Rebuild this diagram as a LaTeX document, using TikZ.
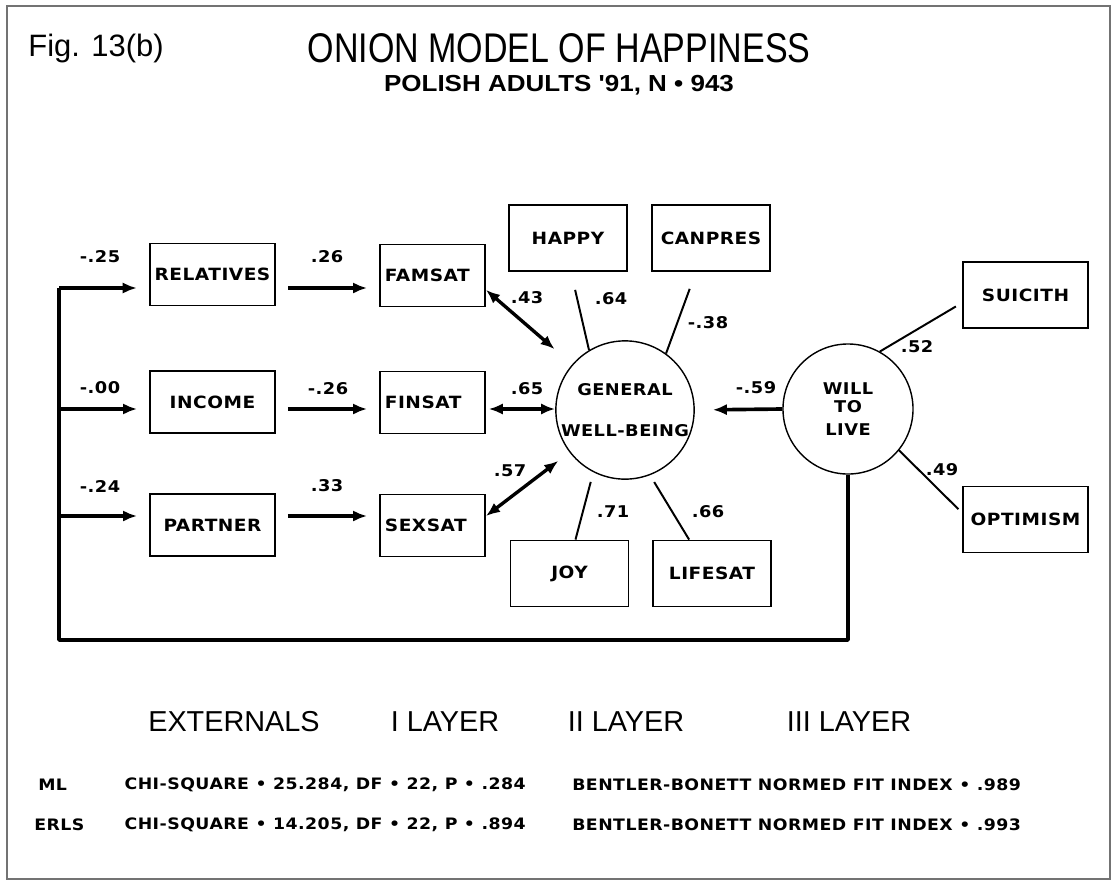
\documentclass[tikz,border=0pt]{standalone}
\usepackage{fontspec}
\setmainfont{Liberation Sans}
\newfontfamily\labelfont{DejaVu Sans}[FakeStretch=1.1,LetterSpace=3]
\newfontfamily\narrowfont{Liberation Sans}[FakeStretch=0.82]
\newfontfamily\widefont{Liberation Sans}[FakeStretch=1.12]
\usetikzlibrary{arrows.meta,positioning}
\tikzset{frame/.style={draw=black!55,line width=1pt},
    box/.style={draw,line width=1.3pt,inner sep=3.5pt,minimum width=3.125cm,minimum height=1.55cm,
        font=\labelfont\bfseries\fontsize{12}{14.4}\selectfont},
    small box/.style={box,minimum width=2.625cm,text width=2.625cm-7pt,align=left},
    mid box/.style={box,minimum width=2.95cm,minimum height=1.65cm},
    latent/.style={draw,circle,line width=1pt,minimum size=3.25cm,inner sep=0pt,align=center,
        font=\labelfont\bfseries\fontsize{11.5}{12.6}\selectfont},
    coef/.style={font=\labelfont\bfseries\fontsize{11.5}{13}\selectfont},
    arr/.style={line width=2.6pt,-{Latex[length=10pt,width=8pt]}},
    dbl/.style={line width=2.4pt,{Latex[length=10pt,width=8pt]}-{Latex[length=10pt,width=8pt]}},
    load/.style={line width=1.4pt},
    layer/.style={font=\fontsize{20.5}{24}\selectfont},
    stat/.style={inner sep=0pt,font=\labelfont\bfseries\fontsize{11.2}{13}\selectfont}}
\begin{document}
\begin{tikzpicture}[x=0.025cm,y=-0.025cm]
\useasboundingbox (0,0) rectangle (1113,883);
\draw[frame] (7,6) rectangle (1110,879);

\node[font=\fontsize{22}{26}\selectfont] (fig) at (96,48) {Fig. 13(b)};
\node[font=\narrowfont\fontsize{29.5}{34}\selectfont] (title) at (559,48) {ONION MODEL OF HAPPINESS};
\node[font=\widefont\bfseries\fontsize{16.5}{20}\selectfont] (subtitle) at (559,85) {POLISH ADULTS '91, N • 943};

\node[box] (relatives) at (212.5,274.5) {RELATIVES};
\node[box] (income) at (212.5,402) {INCOME};
\node[box] (partner) at (212.5,525) {PARTNER};
\node[small box] (famsat) at (432.5,275.5) {FAMSAT};
\node[small box] (finsat) at (432.5,402.5) {FINSAT};
\node[small box] (sexsat) at (432.5,525.5) {SEXSAT};
\node[mid box] (happy) at (568,238) {HAPPY};
\node[mid box] (canpres) at (711,238) {CANPRES};
\node[mid box] (joy) at (569.5,573.5) {JOY};
\node[mid box] (lifesat) at (712,573.5) {LIFESAT};
\node[box,minimum height=1.65cm] (suicith) at (1025.5,295) {SUICITH};
\node[box,minimum height=1.65cm] (optimism) at (1025.5,519.5) {OPTIMISM};
\node[latent] (gwb) at (625,410) {GENERAL\\[16pt]WELL-BEING};
\node[latent] (wtl) at (848,409) {WILL\\TO\\[4pt]LIVE};

\coordinate (t1) at (59,288);
\coordinate (t2) at (59,409);
\coordinate (t3) at (59,516);
\coordinate (c1) at (59,640);

\draw[line width=2.6pt,line join=round] (wtl.south) |- (c1) -- (t1);
\foreach \r/\a/\b in {t1/relatives/famsat,t2/income/finsat,t3/partner/sexsat}{
    \draw[arr,shorten >=0.3cm] (\r) -- (\r -| \a.west);
    \draw[arr,shorten <=0.3cm,shorten >=0.3cm] (\r -| \a.east) -- (\r -| \b.west);
}
\draw[dbl,shorten >=0.58cm] (famsat.-15) -- (gwb);
\draw[dbl,shorten <=2pt] (t2 -| finsat.east) -- (t2 -| gwb.west);
\draw[dbl,shorten >=0.35cm] (sexsat.10) -- (gwb);
\draw[arr,shorten >=0.45cm] (wtl.west) -- (gwb.east);

\draw[load,shorten >=0.46cm] (gwb.121) -- (happy.275);
\draw[load,shorten >=0.45cm] (gwb.54) -- (canpres.246);
\draw[load,shorten <=0.25cm] (gwb.243) -- (joy.80);
\draw[load,shorten <=0.2cm] (gwb.291) -- (lifesat.124);
\draw[load,shorten >=0.18cm] (wtl.61) -- (suicith.187);
\draw[load,shorten >=0.13cm] (wtl.-39) -- (optimism.174);

\foreach \t/\x/\y [count=\i] in {-.25/100/257,.26/327/257,-.00/100/388,-.26/328/389,
    -.24/100/486,.33/327/486,.43/527/298,.65/527/389,.57/510/471,.64/611/299,
    -.38/708/323,-.59/756/388,.52/917/347,.49/942/470,.71/613/512,.66/708/512}
    \node[coef] (coef\i) at (\x,\y) {\t};

\node[layer] (externals) at (234,722) {EXTERNALS};
\node[layer] (layer1) at (445,722) {I LAYER};
\node[layer] (layer2) at (626,722) {II LAYER};
\node[layer] (layer3) at (849,722) {III LAYER};

\node[stat,anchor=west] (ml) at (38,785) {ML};
\node[stat,anchor=east] (chi1) at (526,785) {CHI-SQUARE • 25.284, DF • 22, P • .284};
\node[stat,anchor=west] (nfi1) at (572,785) {BENTLER-BONETT NORMED FIT INDEX • .989};
\node[stat,anchor=west] (erls) at (34,825) {ERLS};
\node[stat,anchor=east] (chi2) at (526,825) {CHI-SQUARE • 14.205, DF • 22, P • .894};
\node[stat,anchor=west] (nfi2) at (572,825) {BENTLER-BONETT NORMED FIT INDEX • .993};
\end{tikzpicture}
\end{document}
